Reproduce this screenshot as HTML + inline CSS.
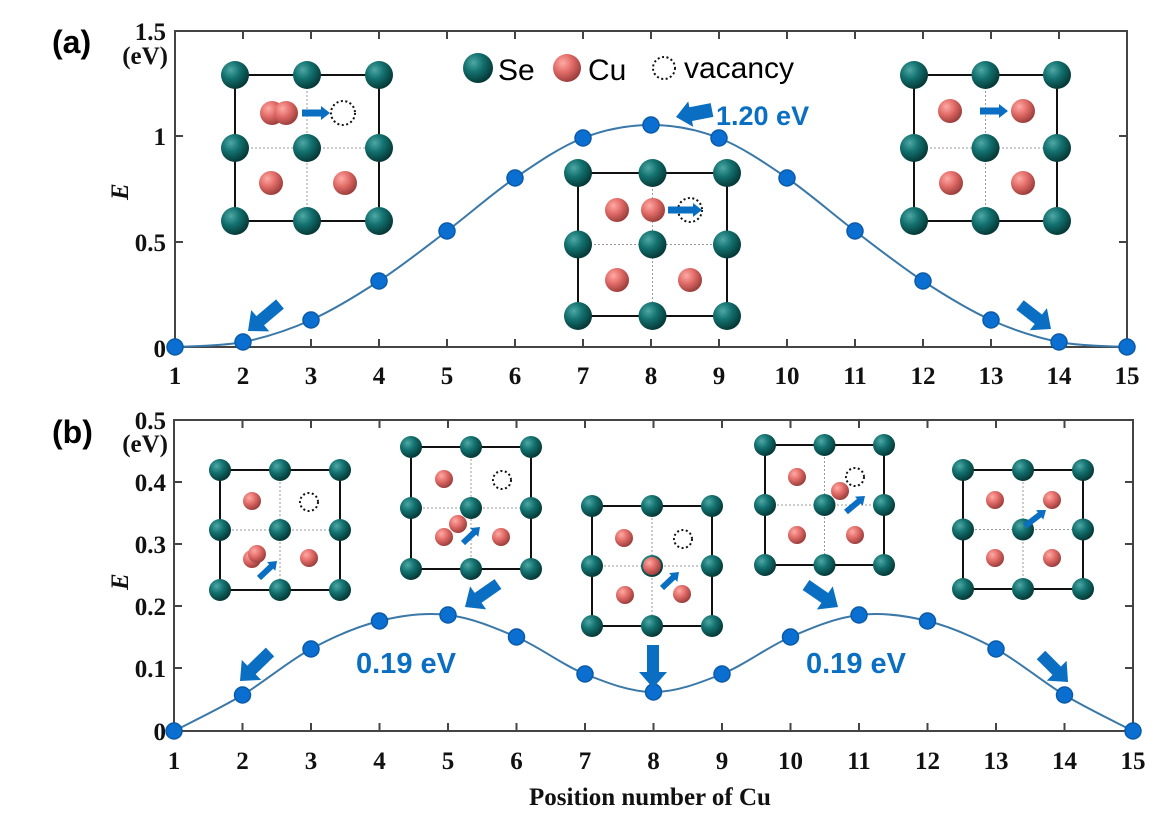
<!DOCTYPE html>
<html><head><meta charset="utf-8"><style>
html,body{margin:0;padding:0;background:#fff;}
svg{display:block;}
.t{font-family:"Liberation Serif",serif;font-weight:bold;font-size:25px;fill:#111;}
.s{font-family:"Liberation Sans",sans-serif;}
</style></head><body>
<svg id="s" width="1174" height="814" viewBox="0 0 1174 814" xmlns="http://www.w3.org/2000/svg">
<defs>
<radialGradient id="se" cx="0.35" cy="0.32" r="0.7"><stop offset="0" stop-color="#4fa8a5"/><stop offset="0.45" stop-color="#137270"/><stop offset="1" stop-color="#053836"/></radialGradient>
<radialGradient id="cu" cx="0.35" cy="0.32" r="0.7"><stop offset="0" stop-color="#ffaaa5"/><stop offset="0.5" stop-color="#e06a66"/><stop offset="1" stop-color="#9a3e3c"/></radialGradient>
</defs>
<g id="frames" fill="none" stroke="#444" stroke-width="2">
<rect x="175" y="31" width="952" height="316"/>
<rect x="174" y="420" width="959" height="311"/>
</g>
<g id="g"></g>
<text x="52" y="53" class="s" font-size="32" font-weight="bold">(a)</text>
<text x="52" y="443" class="s" font-size="32" font-weight="bold">(b)</text>
<text class="t" x="166" y="40" text-anchor="end" font-size="23">1.5</text>
<text class="t" x="168" y="64" text-anchor="end" font-size="20">(eV)</text>
<text class="t" x="166" y="145" text-anchor="end">1</text>
<text class="t" x="166" y="251" text-anchor="end">0.5</text>
<text class="t" x="166" y="357" text-anchor="end">0</text>
<text class="t" x="166" y="429" text-anchor="end" font-size="23">0.5</text>
<text class="t" x="168" y="452" text-anchor="end" font-size="20">(eV)</text>
<text class="t" x="166" y="491" text-anchor="end">0.4</text>
<text class="t" x="166" y="553" text-anchor="end">0.3</text>
<text class="t" x="166" y="615" text-anchor="end">0.2</text>
<text class="t" x="166" y="677" text-anchor="end">0.1</text>
<text class="t" x="166" y="740" text-anchor="end">0</text>
<text class="t" x="0" y="0" font-style="italic" font-size="28" transform="translate(128,200) rotate(-90)">E</text>
<text class="t" x="0" y="0" font-style="italic" font-size="28" transform="translate(128,590) rotate(-90)">E</text>
<text class="t" x="650" y="805" text-anchor="middle" font-size="28">Position number of Cu</text>
<text class="s" x="498" y="80" font-size="30">Se</text>
<text class="s" x="588" y="80" font-size="30">Cu</text>
<text class="s" x="684" y="78" font-size="30">vacancy</text>
<text class="s" x="716" y="125" font-size="27" font-weight="bold" fill="#0a6fc2">1.20 eV</text>
<text class="s" x="356" y="673" font-size="29" font-weight="bold" fill="#0a6fc2">0.19 eV</text>
<text class="s" x="806" y="673" font-size="29" font-weight="bold" fill="#0a6fc2">0.19 eV</text>
<g id="xl"></g>
</svg>
<script>
var NS="http://www.w3.org/2000/svg",G=document.getElementById('g'),XL=document.getElementById('xl');
function el(t,a,p){var e=document.createElementNS(NS,t);for(var k in a)e.setAttribute(k,a[k]);(p||G).appendChild(e);return e;}
function axis(x0,dx,top,bot,yl,yt){
 for(var i=0;i<15;i++){var x=x0+i*dx;
  el('line',{x1:x,y1:top,x2:x,y2:top+8,stroke:'#444','stroke-width':2});
  el('line',{x1:x,y1:bot,x2:x,y2:bot-8,stroke:'#444','stroke-width':2});
  var t=el('text',{x:x,y:yl,'text-anchor':'middle','class':'t'},XL);t.textContent=(i+1);}
 yt.forEach(function(y){el('line',{x1:x0,y1:y,x2:x0+8,y2:y,stroke:'#444','stroke-width':2});
  el('line',{x1:x0+14*dx,y1:y,x2:x0+14*dx-8,y2:y,stroke:'#444','stroke-width':2});});
}
axis(175,68,31,347,384,[136,242]);
axis(174,68.5,420,731,769,[482,544,606,668]);
function curve(x0,dx,ys){
 var P=ys.map(function(y,i){return [x0+i*dx,y];});
 var d='M'+P[0][0]+','+P[0][1];
 for(var i=0;i<P.length-1;i++){var p0=P[Math.max(0,i-1)],p1=P[i],p2=P[i+1],p3=P[Math.min(P.length-1,i+2)];
  d+=' C'+(p1[0]+(p2[0]-p0[0])/6)+','+(p1[1]+(p2[1]-p0[1])/6)+' '+(p2[0]-(p3[0]-p1[0])/6)+','+(p2[1]-(p3[1]-p1[1])/6)+' '+p2[0]+','+p2[1];}
 el('path',{d:d,fill:'none',stroke:'#3a78a8','stroke-width':2});
 P.forEach(function(p){el('circle',{cx:p[0],cy:p[1],r:8,fill:'#0a6fd0',stroke:'#0a5aa8','stroke-width':1.5});});
}
curve(175,68,[347,342,320,281,231,178,138,125,138,178,231,281,320,342,347]);
curve(174,68.5,[731,695,649,621,615,637,674,692,674,637,615,621,649,695,731]);
function arrow(x1,y1,x2,y2,w,hw,hl){
 var L=Math.hypot(x2-x1,y2-y1),a=Math.atan2(y2-y1,x2-x1)*180/Math.PI;
 var s=L-hl;
 el('polygon',{points:[0,-w/2,s,-w/2,s,-hw/2,L,0,s,hw/2,s,w/2,0,w/2].join(' '),fill:'#0a6fc2',
  transform:'translate('+x1+','+y1+') rotate('+a+')'});
}
function sp(x,y,r,g){el('circle',{cx:x,cy:y,r:r,fill:'url(#'+g+')'});}
function vac(x,y,r){el('circle',{cx:x,cy:y,r:r,fill:'none',stroke:'#111','stroke-width':2,'stroke-dasharray':'2 2.5'});}
function inset(x0,x1,y0,y1,rs,rc,cus,v,arr){
 var xm=(x0+x1)/2,ym=(y0+y1)/2;
 el('line',{x1:xm,y1:y0,x2:xm,y2:y1,stroke:'#999','stroke-width':1,'stroke-dasharray':'2 2'});
 el('line',{x1:x0,y1:ym,x2:x1,y2:ym,stroke:'#999','stroke-width':1,'stroke-dasharray':'2 2'});
 el('rect',{x:x0,y:y0,width:x1-x0,height:y1-y0,fill:'none',stroke:'#111','stroke-width':2});
 [y0,ym,y1].forEach(function(y){[x0,xm,x1].forEach(function(x){sp(x,y,rs,'se');});});
 cus.forEach(function(c){sp(c[0],c[1],rc,'cu');});
 if(v)vac(v[0],v[1],rc);
 if(arr)arrow(arr[0],arr[1],arr[2],arr[3],arr[4],arr[5],arr[6]);
}
inset(235,379,75,221,14,12,[[272,113],[286,113],[271,183],[345,183]],[343,113],[302,113,330,113,7,14,9]);
inset(578,727,173,316,14,12,[[617,210],[653,210],[617,280],[690,280]],[690,210],[668,210,702,210,7,14,9]);
inset(914,1057,75,221,14,12,[[950,111],[1023,111],[951,183],[1023,183]],null,[980,111,1008,111,7,14,9]);
inset(220,340,470,590,11,9,[[252,501],[252,559],[257,554],[309,558]],[309,502],[259,578,277,561,6,12,8]);
inset(411,531,447,569,11,9,[[444,479],[444,537],[458,524],[501,537]],[502,480],[463,543,480,527,6,12,8]);
inset(592,712,506,626,11,9,[[624,538],[652,566],[625,595],[682,594]],[683,539],[662,588,679,572,6,12,8]);
inset(765,884,445,565,11,9,[[797,477],[840,491],[797,535],[855,535]],[855,477],[846,512,865,496,6,12,8]);
inset(963,1083,470,589,11,9,[[995,500],[1052,500],[995,558],[1052,558]],null,[1025,526,1046,510,6,12,8]);
sp(478,68,15,'se');sp(567,68,14,'cu');vac(664,68,11);
arrow(280,304,248,331,12,28,16);
arrow(1020,305,1051,329,12,28,16);
arrow(712,110,676,117,14,26,15);
arrow(270,652,240,681,12,28,16);
arrow(498,584,465,607,12,28,16);
arrow(653,645,653,688,12,28,16);
arrow(806,585,838,607,12,28,16);
arrow(1041,655,1068,682,12,28,16);
</script>
</body></html>
